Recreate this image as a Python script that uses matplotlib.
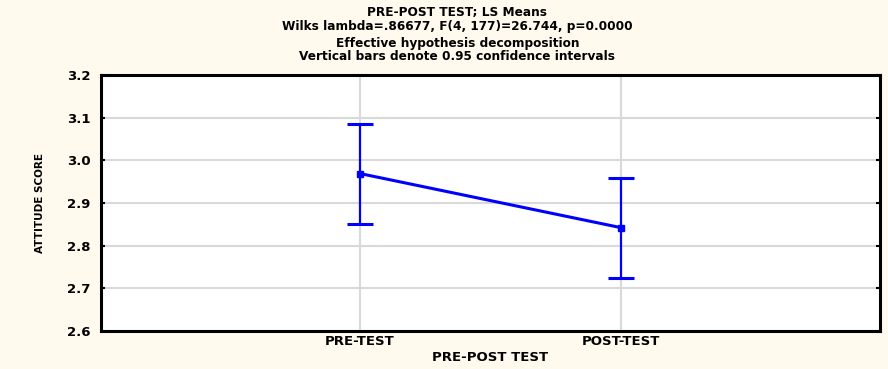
import matplotlib
matplotlib.use("Agg")
import matplotlib.pyplot as plt

# LS means and 95% confidence limits for the two test occasions
categories = ["PRE-TEST", "POST-TEST"]
means = [2.969, 2.842]
ci_low = [2.851, 2.724]
ci_high = [3.086, 2.959]
y_ticks = [2.6, 2.7, 2.8, 2.9, 3.0, 3.1, 3.2]
y_tick_labels = ["2.6", "2.7", "2.8", "2.9", "3.0", "3.1", "3.2"]

title_lines = [
    "PRE-POST TEST; LS Means",
    "Wilks lambda=.86677, F(4, 177)=26.744, p=0.0000",
    "Effective hypothesis decomposition",
    "Vertical bars denote 0.95 confidence intervals",
]

bg = "#fff9ee"
blue = "#0000ff"

fig = plt.figure(figsize=(8.88, 3.69), dpi=100, facecolor=bg)
ax = fig.add_axes([0.1137, 0.103, 0.8773, 0.694])
ax.set_facecolor("white")

x = list(range(len(categories)))
yerr = [[m - lo for m, lo in zip(means, ci_low)],
        [hi - m for m, hi in zip(means, ci_high)]]

ax.plot(x, means, color=blue, lw=2.2, zorder=3)
ax.errorbar(x, means, yerr=yerr, fmt="s", color=blue, ms=5, lw=1.6,
            capsize=9.5, capthick=2.2, zorder=4)

ax.set_xlim(-0.99, 1.99)
ax.set_ylim(2.6, 3.2)
ax.set_xticks(x)
ax.set_xticklabels(categories, fontsize=9.5, fontweight="bold")
ax.set_yticks(y_ticks)
ax.set_yticklabels(y_tick_labels, fontsize=9.5, fontweight="bold")
ax.grid(True, color="#d9d9d9", lw=1.5, zorder=0)
ax.set_axisbelow(True)
ax.tick_params(axis="y", direction="in", length=3, width=1.5,
               right=True, pad=7.5)
ax.tick_params(axis="x", length=0, pad=3)
for s in ax.spines.values():
    s.set_linewidth(2.2)
    s.set_color("black")

ax.set_xlabel("PRE-POST TEST", fontsize=9.5, fontweight="bold", labelpad=2)
ax.set_ylabel("ATTITUDE SCORE", fontsize=7.5, fontweight="bold", labelpad=16)

ys = [0.966, 0.927, 0.883, 0.846]
for t, yy in zip(title_lines, ys):
    fig.text(0.515, yy, t, ha="center", va="center", fontsize=8.7,
             fontweight="bold")

fig.savefig("out.png", dpi=100, facecolor=bg)
